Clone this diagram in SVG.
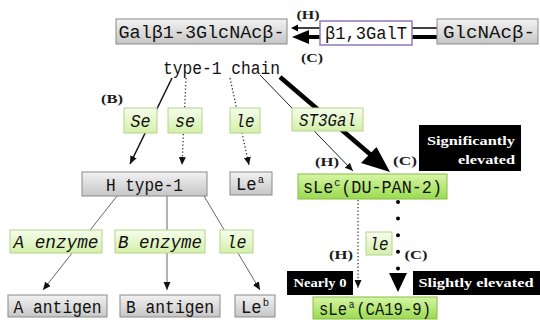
<svg xmlns="http://www.w3.org/2000/svg" width="540" height="320" viewBox="0 0 540 320">
<defs>
<linearGradient id="gGray" x1="0" y1="0" x2="0" y2="1"><stop offset="0" stop-color="#f2f2f2"/><stop offset="1" stop-color="#c6c6c6"/></linearGradient>
<linearGradient id="gPale" x1="0" y1="0" x2="0" y2="1"><stop offset="0" stop-color="#f6fdec"/><stop offset="1" stop-color="#d4f0aa"/></linearGradient>
<linearGradient id="gBright" x1="0" y1="0" x2="0" y2="1"><stop offset="0" stop-color="#d6f6a4"/><stop offset="1" stop-color="#9ada50"/></linearGradient>
<marker id="ah" viewBox="0 0 8 8" refX="8" refY="4" markerWidth="8" markerHeight="8" markerUnits="userSpaceOnUse" orient="auto"><path d="M0,0.5 L8,4 L0,7.5 z" fill="#111"/></marker>
<style>
.gray{fill:url(#gGray);stroke:#8a8a8a;stroke-width:1}
.pale{fill:url(#gPale);stroke:#b3d48a;stroke-width:1}
.bright{fill:url(#gBright);stroke:#88bb48;stroke-width:1}
.purple{fill:#fff;stroke:#9278bd;stroke-width:1.5}
.blk{fill:#000}
.t{font-family:'Liberation Mono','DejaVu Sans Mono',monospace;font-size:18px;fill:#111;text-anchor:middle}
.ti{font-style:italic}
.lab{font-family:'Liberation Serif','Times New Roman',serif;font-weight:bold;font-size:13px;fill:#1a1a1a;text-anchor:middle}
.wl{font-family:'Liberation Serif','Times New Roman',serif;font-weight:bold;font-size:13px;fill:#fff}
.end{text-anchor:end}
.mid{text-anchor:middle}
.sol{stroke:#111;stroke-width:1.5;fill:none}
.gry{stroke:#666;stroke-width:1;fill:none}
.dot{stroke:#333;stroke-width:1.3;stroke-dasharray:1.3 2.2;fill:none}
.ahd{fill:#000}
</style>
</defs>
<rect width="540" height="320" fill="#fff"/>

<g id="connectors">
  <line x1="437" y1="28" x2="297" y2="28" stroke="#000" stroke-width="1.5"/>
  <polygon class="ahd" points="291,28 298,24.5 298,31.5"/>
  <line x1="437" y1="37" x2="306" y2="37" stroke="#000" stroke-width="4"/>
  <polygon class="ahd" points="292,37 309,30 309,44"/>
  <line class="sol" x1="172" y1="78" x2="130" y2="164" marker-end="url(#ah)"/>
  <line class="dot" x1="186" y1="78" x2="182" y2="165" marker-end="url(#ah)"/>
  <line class="dot" x1="230" y1="78" x2="249" y2="165" marker-end="url(#ah)"/>
  <line x1="260" y1="75" x2="353" y2="171" stroke="#222" stroke-width="1" marker-end="url(#ah)"/>
  <line x1="280" y1="77" x2="371" y2="155" stroke="#000" stroke-width="4.5"/>
  <polygon class="ahd" points="390,172 376.5,147 361,163"/>
  <line class="gry" x1="117" y1="196" x2="43" y2="290" marker-end="url(#ah)"/>
  <line class="gry" x1="167" y1="196" x2="167" y2="290" marker-end="url(#ah)"/>
  <line class="gry" x1="204" y1="196" x2="260" y2="290" marker-end="url(#ah)"/>
  <line class="dot" x1="358" y1="200" x2="358" y2="288" marker-end="url(#ah)"/>
  <line x1="398" y1="202" x2="398" y2="269" stroke="#000" stroke-width="4" stroke-linecap="round" stroke-dasharray="0 16.6"/>
  <polygon class="ahd" points="389,273 407,273 398,292"/>
</g>

<g id="n-galglc"><rect class="gray" x="116" y="19" width="171" height="25"/><text class="t" x="201.5" y="38" textLength="166" lengthAdjust="spacingAndGlyphs">Galβ1-3GlcNAcβ-</text></g>
<g id="n-b13galt"><rect class="purple" x="320" y="21" width="92" height="24"/><text class="t" x="366" y="39" textLength="82" lengthAdjust="spacingAndGlyphs">β1,3GalT</text></g>
<g id="n-glcnac"><rect class="gray" x="437" y="19" width="101" height="25"/><text class="t" x="489" y="38" textLength="92" lengthAdjust="spacingAndGlyphs">GlcNAcβ-</text></g>
<g id="n-type1"><text class="t" x="221.5" y="74" font-size="19" textLength="117" lengthAdjust="spacingAndGlyphs">type-1 chain</text></g>

<g id="lbl-top"><text class="lab" x="308" y="19" textLength="23" lengthAdjust="spacingAndGlyphs">(H)</text><text class="lab" x="312" y="62" textLength="22" lengthAdjust="spacingAndGlyphs">(C)</text><text class="lab" x="112" y="103" textLength="22" lengthAdjust="spacingAndGlyphs">(B)</text></g>

<g id="n-Se"><rect class="pale" x="124" y="108" width="33" height="25"/><text class="t ti" x="140.5" y="127" textLength="20" lengthAdjust="spacingAndGlyphs">Se</text></g>
<g id="n-se"><rect class="pale" x="168" y="108" width="34" height="25"/><text class="t ti" x="185" y="127" textLength="20" lengthAdjust="spacingAndGlyphs">se</text></g>
<g id="n-le1"><rect class="pale" x="230" y="108" width="30" height="25"/><text class="t ti" x="245" y="127" textLength="19" lengthAdjust="spacingAndGlyphs">le</text></g>
<g id="n-st3gal"><rect class="pale" x="292" y="108" width="71" height="23"/><text class="t ti" x="327.5" y="126" textLength="57" lengthAdjust="spacingAndGlyphs">ST3Gal</text></g>

<g id="n-htype1"><rect class="gray" x="82" y="172" width="125" height="24"/><text class="t" x="144.5" y="191" textLength="77" lengthAdjust="spacingAndGlyphs">H type-1</text></g>
<g id="n-lea"><rect class="gray" x="230" y="172" width="42" height="23"/><text class="t" x="250" y="190" textLength="28" lengthAdjust="spacingAndGlyphs">Le<tspan font-size="11" dx="1" dy="-7">a</tspan></text></g>

<g id="n-slec"><rect class="bright" x="298" y="174" width="149" height="25"/><text class="t" x="372.5" y="193" textLength="139" lengthAdjust="spacingAndGlyphs">sLe<tspan font-size="11" dx="1" dy="-7">c</tspan><tspan dx="1" dy="7">(DU-PAN-2)</tspan></text></g>
<g id="lbl-mid"><text class="lab" x="327" y="166" textLength="24" lengthAdjust="spacingAndGlyphs">(H)</text><text class="lab" x="405" y="165" textLength="24" lengthAdjust="spacingAndGlyphs">(C)</text></g>
<g id="n-sig"><rect class="blk" x="419" y="125" width="102" height="46"/><text class="wl end" x="515" y="145" textLength="88" lengthAdjust="spacingAndGlyphs">Significantly</text><text class="wl end" x="515" y="164" textLength="57" lengthAdjust="spacingAndGlyphs">elevated</text></g>

<g id="n-le2"><rect class="pale" x="366" y="232" width="26" height="23"/><text class="t ti" x="379" y="250" textLength="19" lengthAdjust="spacingAndGlyphs">le</text></g>
<g id="lbl-low"><text class="lab" x="341" y="259" textLength="24" lengthAdjust="spacingAndGlyphs">(H)</text><text class="lab" x="416" y="259" textLength="23" lengthAdjust="spacingAndGlyphs">(C)</text></g>
<g id="n-nearly"><rect class="blk" x="287" y="271" width="66" height="24"/><text class="wl mid" x="320" y="287" textLength="53" lengthAdjust="spacingAndGlyphs">Nearly 0</text></g>
<g id="n-slightly"><rect class="blk" x="413" y="271" width="127" height="24"/><text class="wl mid" x="476" y="287" textLength="115" lengthAdjust="spacingAndGlyphs">Slightly elevated</text></g>
<g id="n-slea"><rect class="bright" x="313" y="297" width="124" height="22"/><text class="t" x="375" y="315" textLength="112" lengthAdjust="spacingAndGlyphs">sLe<tspan font-size="11" dx="2" dy="-7">a</tspan><tspan dx="2" dy="7">(CA19-9)</tspan></text></g>

<g id="n-aenz"><rect class="pale" x="10" y="230" width="92" height="23"/><text class="t ti" x="56" y="248" textLength="85" lengthAdjust="spacingAndGlyphs">A enzyme</text></g>
<g id="n-benz"><rect class="pale" x="115" y="230" width="90" height="23"/><text class="t ti" x="160" y="248" textLength="84" lengthAdjust="spacingAndGlyphs">B enzyme</text></g>
<g id="n-le3"><rect class="pale" x="220" y="230" width="33" height="23"/><text class="t ti" x="236.5" y="248" textLength="20" lengthAdjust="spacingAndGlyphs">le</text></g>

<g id="n-aag"><rect class="gray" x="8" y="295" width="99" height="22"/><text class="t" x="57.5" y="313" textLength="88" lengthAdjust="spacingAndGlyphs">A antigen</text></g>
<g id="n-bag"><rect class="gray" x="120" y="295" width="100" height="22"/><text class="t" x="170" y="313" textLength="88" lengthAdjust="spacingAndGlyphs">B antigen</text></g>
<g id="n-leb"><rect class="gray" x="235" y="295" width="40" height="22"/><text class="t" x="255" y="313" textLength="28" lengthAdjust="spacingAndGlyphs">Le<tspan font-size="11" dx="1" dy="-7">b</tspan></text></g>
</svg>
